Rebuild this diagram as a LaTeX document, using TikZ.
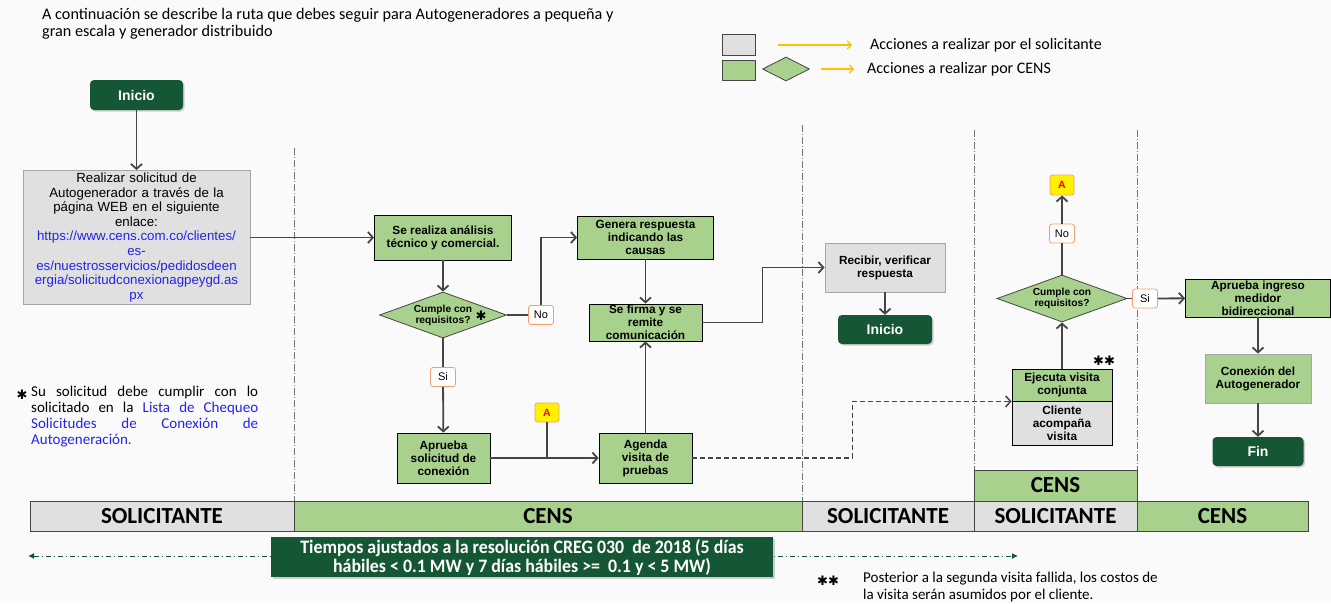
\documentclass[tikz,border=0pt]{standalone}
\usepackage{fontspec}
\setmainfont{Liberation Sans}
\newfontfamily\calib{Carlito}
\newfontfamily\calibc[FakeStretch=0.94]{Carlito}
\newfontfamily\dejavu{DejaVu Sans}
\usetikzlibrary{shapes.geometric,arrows.meta,shadows}
\definecolor{verdeC}{HTML}{A9D18E}
\definecolor{verdeO}{HTML}{155734}
\definecolor{grisC}{HTML}{E0E0E0}
\definecolor{grisB}{HTML}{A6A6A6}
\definecolor{trazo}{HTML}{454545}
\definecolor{naranja}{HTML}{F1A06C}
\definecolor{dorado}{HTML}{FFC000}
\definecolor{azul}{HTML}{2424E8}
\definecolor{fondo}{HTML}{FAFAFA}
\newcommand{\estrella}{{\dejavu\char"2731}}
\tikzset{
caja/.style={draw=black,fill=verdeC,line width=0.8pt,align=center,inner sep=1pt,
  font=\bfseries\fontsize{11.8}{13}\selectfont},
cajagris/.style={caja,draw=grisB,fill=grisC},
rombo/.style={diamond,draw=trazo,fill=verdeC,line width=0.8pt,inner sep=0pt,align=center,
  font=\bfseries\fontsize{10.2}{11}\selectfont},
terminal/.style={rounded corners=4pt,fill=verdeO,text=white,minimum width=93pt,minimum height=30pt,
  font=\bfseries\fontsize{14}{15}\selectfont,drop shadow={opacity=0.35,shadow xshift=1.5pt,shadow yshift=-1.5pt}},
etiq/.style={draw=naranja,fill=white,line width=0.8pt,rounded corners=2.5pt,inner sep=0pt,
  minimum width=25pt,minimum height=19pt,font=\fontsize{11}{12}\selectfont},
marca/.style={etiq,fill=yellow,text=red,font=\bfseries\fontsize{10.5}{12}\selectfont},
flecha/.style={draw=trazo,line width=1.8pt,-{Straight Barb[length=5pt,width=11pt]}},
linea/.style={draw=trazo,line width=1.8pt},
separa/.style={draw=gray!90!black,line width=0.7pt,dash pattern=on 7pt off 2pt on 1pt off 2pt},
franja/.style={draw=trazo,line width=0.6pt,inner sep=0pt,minimum height=30pt,
  font=\calib\bfseries\fontsize{23}{24}\selectfont},
}
\begin{document}
\begin{tikzpicture}[x=1pt,y=-1pt]
\fill[fondo] (0,0) rectangle (1331,603);
\useasboundingbox (0,0) rectangle (1331,603);
\node[anchor=north west,align=left,inner sep=0pt,font=\calib\fontsize{16.2}{17}\selectfont] (titulo) at (42,8)
  {A continuación se describe la ruta que debes seguir para Autogeneradores a pequeña y\\gran escala y generador distribuido};

% leyenda
\node[cajagris,draw=trazo,minimum width=33pt,minimum height=21pt] (legS) at (738.5,44.5) {};
\node[caja,draw=trazo,minimum width=33pt,minimum height=20pt] (legC) at (738.5,70) {};
\node[rombo,minimum width=47pt,minimum height=24pt,aspect=2] (legR) at (786,69) {};
\coordinate (lgS1) at (778,45); \coordinate (lgS2) at (852,45);
\coordinate (lgC1) at (821,69); \coordinate (lgC2) at (854,69);
\draw[dorado,line width=1.1pt,-{Straight Barb[length=4pt,width=8pt]}] (lgS1) -- (lgS2);
\draw[dorado,line width=1.1pt,-{Straight Barb[length=4pt,width=8pt]}] (lgC1) -- (lgC2);
\node[anchor=west,inner sep=0pt,font=\calib\fontsize{16}{17}\selectfont] (legTS) at (870,45) {Acciones a realizar por el solicitante};
\node[anchor=west,inner sep=0pt,font=\calib\fontsize{16}{17}\selectfont] (legTC) at (867,69) {Acciones a realizar por CENS};

% carriles
\foreach \x/\ya/\yb in {294/148/501,802/125/501,974/130/470,1137/130/470}
  \draw[separa] (\x,\ya) -- (\x,\yb);

% solicitante
\node[terminal] (inicio) at (136.5,95) {Inicio};
\node[cajagris,minimum width=227pt,minimum height=134pt,text width=222pt,
  font=\fontsize{13.3}{14.6}\selectfont] (solicitud) at (136.5,237.5)
  {Realizar solicitud de\\Autogenerador a través de la\\página WEB en el siguiente\\enlace:\\
  \textcolor{azul}{https://www.cens.com.co/clientes/}\\\textcolor{azul}{es-}\\
  \textcolor{azul}{es/nuestrosservicios/pedidosdeen}\\\textcolor{azul}{ergia/solicitudconexionagpeygd.as}\\\textcolor{azul}{px}};

% CENS
\node[caja,minimum width=137pt,minimum height=45pt] (analisis) at (443,237.5) {Se realiza análisis\\técnico y comercial.};
\node[rombo,minimum width=127pt,minimum height=46pt,aspect=2.76] (cumple) at (443,315) {Cumple con\\requisitos?};
\node[font=\fontsize{13}{13}\selectfont,inner sep=0pt] (ast1) at (481,316) {\estrella};
\node[etiq] (no1) at (541,315) {No};
\node[caja,minimum width=136pt,minimum height=43pt] (genera) at (645.5,237.5) {Genera respuesta\\indicando las\\causas};
\node[caja,minimum width=113pt,minimum height=37pt] (firma) at (645.5,322.5) {Se firma y se\\remite\\comunicación};
\node[etiq] (si1) at (443,377) {Si};
\node[caja,minimum width=93pt,minimum height=50pt] (aprueba) at (443.5,458) {Aprueba\\solicitud de\\conexión};
\node[marca,minimum width=24pt] (marcaA) at (547,412.5) {A};
\coordinate (juntaA) at (547,458);
\node[caja,minimum width=93pt,minimum height=50pt] (agenda) at (645.5,458) {Agenda\\visita de\\pruebas};

% solicitante
\node[cajagris,minimum width=120pt,minimum height=49pt] (recibir) at (885,267.5) {Recibir, verificar\\respuesta};
\node[terminal,minimum width=94pt,minimum height=29pt] (inicioB) at (885,329.5) {Inicio};

% visita conjunta
\node[caja,minimum width=100pt,minimum height=32pt] (ejecuta) at (1062,385) {Ejecuta visita\\conjunta};
\node[cajagris,draw=black,minimum width=100pt,minimum height=44pt] (cliente) at (1062,423) {Cliente\\acompaña\\visita};
\node[font=\fontsize{13}{13}\selectfont,inner sep=0pt] (ast2) at (1104,361) {\estrella\estrella};
\node[rombo,minimum width=130pt,minimum height=47pt,aspect=2.76] (cumpleB) at (1062,298.5) {Cumple con\\requisitos?};
\node[etiq] (noB) at (1062,233.5) {No};
\node[marca,minimum width=24pt,minimum height=20pt] (marcaB) at (1062,185) {A};
\node[etiq] (siB) at (1145,298.5) {Si};
\node[caja,minimum width=145pt,minimum height=38pt] (medidor) at (1258,298) {Aprueba ingreso\\medidor\\bidireccional};
\node[caja,draw=grisB,minimum width=106pt,minimum height=49pt] (conexion) at (1258,378.5) {Conexión del\\Autogenerador};
\node[terminal,minimum width=91pt,minimum height=29pt] (fin) at (1258,451.5) {Fin};

% conectores
\draw[flecha] (inicio) -- (solicitud);
\draw[flecha] (solicitud) -- (analisis);
\draw[flecha] (analisis) -- (cumple);
\draw[linea] (cumple) -- (no1);
\draw[flecha] (no1) |- (genera);
\draw[flecha] (genera) -- (firma);
\draw[linea] (cumple) -- (si1);
\draw[flecha] (si1) -- (aprueba);
\draw[flecha] (aprueba) -- (agenda);
\draw[linea] (marcaA) -- (juntaA);
\draw[flecha] (agenda) -- (firma);
\draw[flecha] (firma.east) -- ++(60,0) |- (recibir.west);
\draw[flecha] (recibir) -- (inicioB);
\draw[flecha,line width=1.5pt,dash pattern=on 5pt off 3pt] (agenda.east) -- ++(160,0) |- (ejecuta.south west);
\draw[flecha] (ejecuta) -- (cumpleB);
\draw[linea] (cumpleB) -- (noB);
\draw[flecha] (noB) -- (marcaB);
\draw[linea] (cumpleB) -- (siB);
\draw[flecha] (siB) -- (medidor);
\draw[flecha] (medidor) -- (conexion);
\draw[flecha] (conexion) -- (fin);

% nota
\node[font=\fontsize{13}{13}\selectfont,inner sep=0pt] (ast3) at (22,395) {\estrella};
\node[anchor=north west,inner sep=0pt,text width=227pt,align=justify,
  font=\calib\fontsize{15}{16}\selectfont] (nota) at (31,386)
  {Su solicitud debe cumplir con lo\linebreak solicitado en la \textcolor{azul}{Lista de Chequeo\linebreak
  Solicitudes de Conexión de\linebreak Autogeneración.}};

% franjas
\node[franja,fill=grisC,minimum width=264pt] (barS1) at (162,516) {SOLICITANTE};
\node[franja,fill=verdeC,minimum width=508pt] (barC1) at (548,516) {CENS};
\node[franja,fill=grisC,minimum width=172pt] (barS2) at (888,516) {SOLICITANTE};
\node[franja,fill=grisC,minimum width=163pt] (barS3) at (1055.5,516) {SOLICITANTE};
\node[franja,fill=verdeC,minimum width=171pt] (barC2) at (1222.5,516) {CENS};
\node[franja,fill=verdeC,minimum width=163pt,minimum height=31pt] (barC3) at (1055.5,485.5) {CENS};

% tiempos
\coordinate (plazoI) at (28,556); \coordinate (plazoD) at (1018,556);
\draw[verdeO,line width=1pt,dash pattern=on 5pt off 3pt on 1pt off 3pt,
  {Latex[length=6pt,width=6pt]}-{Latex[length=6pt,width=6pt]}] (plazoI) -- (plazoD);
\node[fill=verdeO,text=white,minimum width=502pt,minimum height=40pt,inner sep=0pt,align=center,
  font=\calibc\bfseries\fontsize{19}{19}\selectfont,drop shadow={opacity=0.35,shadow xshift=1.5pt,shadow yshift=-1.5pt}]
  (tiempos) at (522,557) {Tiempos ajustados a la resolución CREG 030\ \ de 2018 (5 días\\hábiles < 0.1 MW y 7 días hábiles >= \ 0.1 y < 5 MW)};

% pie
\node[font=\fontsize{13}{13}\selectfont,inner sep=0pt] (ast4) at (828,581) {\estrella\estrella};
\node[anchor=north west,inner sep=0pt,align=left,font=\calib\fontsize{15}{17}\selectfont] (pie) at (863,572)
  {Posterior a la segunda visita fallida, los costos de\\la visita serán asumidos por el cliente.};
\end{tikzpicture}
\end{document}
